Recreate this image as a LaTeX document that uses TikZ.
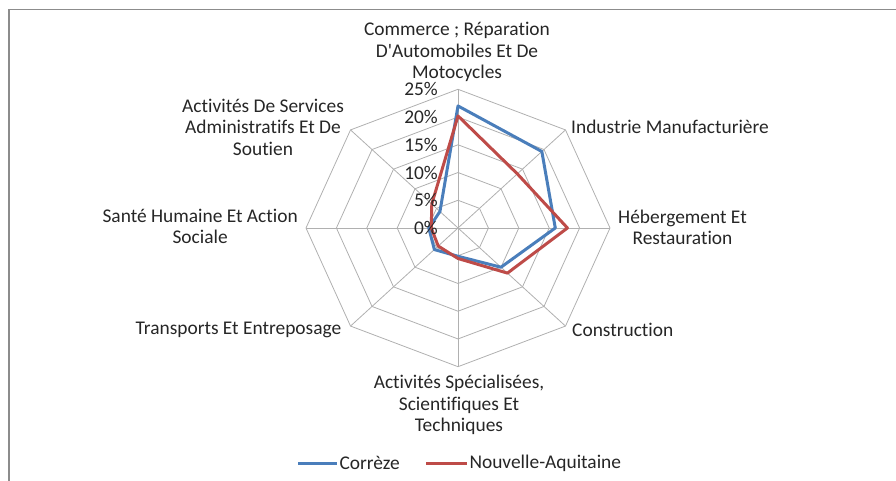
\documentclass[tikz,border=0pt]{standalone}
\usepackage{fontspec}
\setmainfont{Carlito}[Ligatures={NoCommon}]
\definecolor{correze}{HTML}{4A7EBB}
\definecolor{naq}{HTML}{BE4B48}
\definecolor{grille}{HTML}{B0B0B0}
\definecolor{cadre}{HTML}{8C8C8C}
\begin{document}
\begin{tikzpicture}[x=1pt,y=1pt,
    lab/.style={font=\fontsize{19.4}{21.3}\selectfont,text=black!85,align=center,inner sep=0pt},
    serie/.style={line width=3pt,line join=round}]
                \useasboundingbox (0,0) rectangle (896,481);
                \draw[cadre,line width=1.2pt] (9,0) -- (9,471.5) -- (896,471.5);
                \begin{scope}[shift={(458,253)},xscale=152,yscale=138.7]
                    \foreach \r in {0.2,0.4,0.6,0.8,1}
                    {
                        \draw[grille,line width=0.8pt] (90:\r) -- (45:\r) -- (0:\r) -- (-45:\r) -- (-90:\r) -- (-135:\r) -- (180:\r) -- (135:\r) -- cycle;
                    }
                    \foreach \a in {90,45,...,-225}
                    {
                        \draw[grille,line width=0.8pt] (0,0) -- (\a:1);
                    }
                    \draw[serie,correze] (90:.88) -- (45:.78) -- (0:.64) -- (-45:.40) -- (-90:.204) -- (-135:.22) -- (180:.192) -- (135:.168) -- cycle;
                    \draw[serie,naq] (90:.808) -- (45:.552) -- (0:.72) -- (-45:.46) -- (-90:.22) -- (-135:.184) -- (180:.176) -- (135:.244) -- cycle;
                \end{scope}
                \foreach \k in {0,...,5}
                {
                    \pgfmathtruncatemacro{\p}{5*\k}
                    \node[lab,anchor=east] (pct\k) at (438,{253+27.74*\k}) {\p\%};
                }
                \node[lab] (commerce) at (457,429) {Commerce ; Réparation\\D\textquotesingle Automobiles Et De\\Motocycles};
                \node[lab,anchor=west] (industrie) at (571,354.5) {Industrie Manufacturière};
                \node[lab,anchor=west] (hebergement) at (618,254) {Hébergement Et\\Restauration};
                \node[lab,anchor=west] (construction) at (572,151) {Construction};
                \node[lab] (specialisees) at (459,76) {Activités Spécialisées,\\Scientifiques Et\\Techniques};
                \node[lab,anchor=east] (transports) at (341.4,151) {Transports Et Entreposage};
                \node[lab,anchor=east] (sante) at (298,254.3) {Santé Humaine Et Action\\Sociale};
                \node[lab] (services) at (263,353.8) {Activités De Services\\Administratifs Et De\\Soutien};
                \draw[correze,line width=3pt] (298,17.7) -- (337,17.7) node[lab,anchor=west,inner sep=1pt] (legcorreze) {Corrèze};
                \draw[naq,line width=3pt] (426,17.7) -- (467,17.7) node[lab,anchor=west,inner sep=1pt] (legnaq) {Nouvelle-Aquitaine};
            \end{tikzpicture}
\end{document}
